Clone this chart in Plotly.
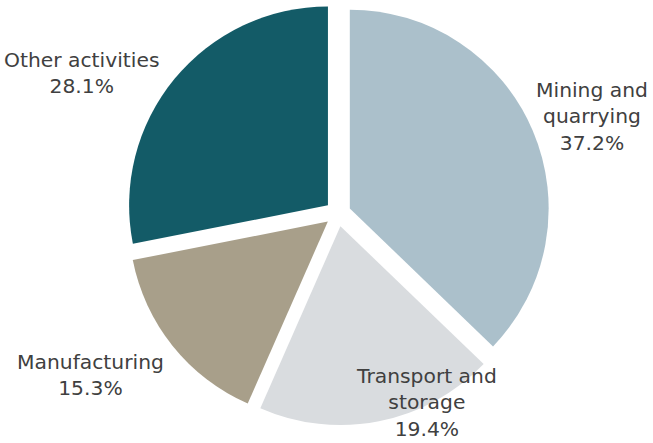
import plotly.graph_objects as go

# 数据
labels = ["Mining and<br>quarrying", "Transport and<br>storage", "Manufacturing", "Other activities"]
shares = [37.2, 19.4, 15.3, 28.1]
colors = ["#abc0cb", "#d9dcdf", "#a89f8a", "#135b67"]

# 标签位置（像素，画布左上角为原点）
label_xy = [(592, 116), (426, 402), (90, 375), (82, 73)]

W, H = 653, 443

fig = go.Figure(data=go.Pie(
    labels=labels,
    values=shares,
    sort=False,
    direction="clockwise",
    rotation=0,
    pull=0.065,
    marker=dict(colors=colors, line=dict(width=0)),
    textinfo="none",
    hoverinfo="label+value",
    domain=dict(x=[0.19, 0.845], y=[0.04, 0.996]),
    showlegend=False,
))

for lab, val, (px, py) in zip(labels, shares, label_xy):
    fig.add_annotation(
        x=px / W, y=1 - py / H, xref="paper", yref="paper",
        text=f"{lab}<br>{val:.1f}%",
        showarrow=False, xanchor="center", yanchor="middle",
        font=dict(family="DejaVu Sans", size=20.3, color="#404040"),
    )

fig.update_layout(
    width=W, height=H,
    margin=dict(l=0, r=0, t=0, b=0),
    paper_bgcolor="white",
    plot_bgcolor="white",
)
fig.write_html("out.html", config={"displayModeBar": False},
               post_script="document.body.style.margin='0';")
